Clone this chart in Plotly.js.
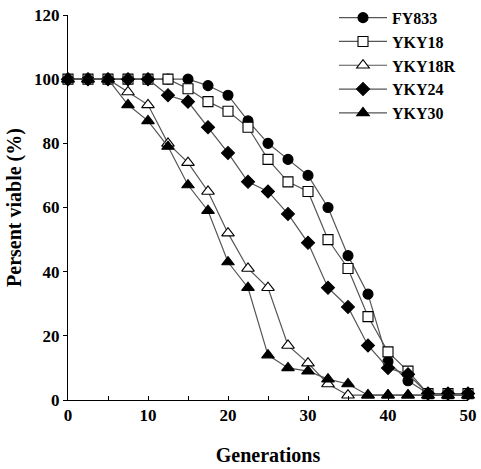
<!DOCTYPE html>
<html>
<head>
<meta charset="utf-8">
<script src="https://cdn.plot.ly/plotly-3.0.1.min.js"></script>
<style>html,body{margin:0;padding:0;background:#fff;}#chart{width:481px;height:469px;}</style>
</head>
<body>
<div id="chart"></div>
<script>
const generations = [0, 2.5, 5, 7.5, 10, 12.5, 15, 17.5, 20, 22.5, 25, 27.5, 30, 32.5, 35, 37.5, 40, 42.5, 45, 47.5, 50];
const fy833   = [100, 100, 100, 100, 100, 100, 100, 98, 95, 87, 80, 75, 70, 60, 45, 33, 12, 6, 2, 2, 2];
const yky18   = [100, 100, 100, 100, 100, 100, 97, 93, 90, 85, 75, 68, 65, 50, 41, 26, 15, 9, 2, 2, 2];
const yky18r  = [100, 100, 100, 96, 92, 80, 74, 65, 52, 41, 35, 17, 11.5, 5, 1.5, 1.5, 1.5, 1.5, 1.5, 1.5, 1.5];
const yky24   = [100, 100, 100, 100, 100, 95, 93, 85, 77, 68, 65, 58, 49, 35, 29, 17, 10, 8, 2, 2, 2];
const yky30   = [100, 100, 100, 92, 87, 79, 67, 59, 43, 35, 14, 10, 9, 6.5, 5, 1.5, 1.5, 1.5, 1.5, 1.5, 1.5];
const seriesNames = ["FY833", "YKY18", "YKY18R", "YKY24", "YKY30"];
const xTitle = "Generations";
const yTitle = "Persent viable (%)";

const FONT = "'Times New Roman', 'Liberation Serif', 'DejaVu Serif', serif";
const lineColor = "#555";

function tr(name, y, symbol, size, fill) {
  return {
    x: generations, y: y, name: name, type: "scatter", mode: "lines+markers",
    cliponaxis: false,
    line: {color: lineColor, width: 1.2},
    marker: {symbol: symbol, size: size, color: fill, line: {color: "#000", width: 1.1}}
  };
}

const data = [
  tr(seriesNames[0], fy833, "circle", 10, "#000"),
  tr(seriesNames[1], yky18, "square", 10, "#fff"),
  tr(seriesNames[2], yky18r, "triangle-up", 11, "#fff"),
  tr(seriesNames[3], yky24, "diamond", 10, "#000"),
  tr(seriesNames[4], yky30, "triangle-up", 11, "#000")
];

const layout = {
  width: 481, height: 469,
  margin: {l: 68, r: 13, t: 15, b: 69, autoexpand: false},
  paper_bgcolor: "#fff", plot_bgcolor: "#fff",
  font: {family: FONT, size: 17, color: "#000", weight: 700},
  showlegend: true,
  legend: {
    x: 0.665, y: 1.037, xanchor: "left", yanchor: "top",
    bgcolor: "rgba(0,0,0,0)", font: {family: FONT, size: 16, weight: 700},
    itemwidth: 48, tracegroupgap: 0
  },
  xaxis: {
    range: [0, 50], dtick: 10, tick0: 0,
    ticks: "inside", ticklen: 4, tickcolor: "#000",
    minor: {dtick: 5, ticks: "inside", ticklen: 4, tickcolor: "#000"},
    showline: true, linecolor: "#000", linewidth: 1,
    showgrid: false, zeroline: false,
    tickfont: {family: FONT, size: 17, weight: 700},
    title: {text: xTitle, font: {family: FONT, size: 20, weight: 700}, standoff: 23}
  },
  yaxis: {
    range: [0, 120], dtick: 20, tick0: 0,
    ticks: "outside", ticklen: 4, tickcolor: "#000",
    showline: true, linecolor: "#000", linewidth: 1,
    showgrid: false, zeroline: false,
    tickfont: {family: FONT, size: 17, weight: 700},
    title: {text: yTitle, font: {family: FONT, size: 20, weight: 700}, standoff: 7}
  }
};

Plotly.newPlot("chart", data, layout, {displayModeBar: false, staticPlot: true});
</script>
</body>
</html>
